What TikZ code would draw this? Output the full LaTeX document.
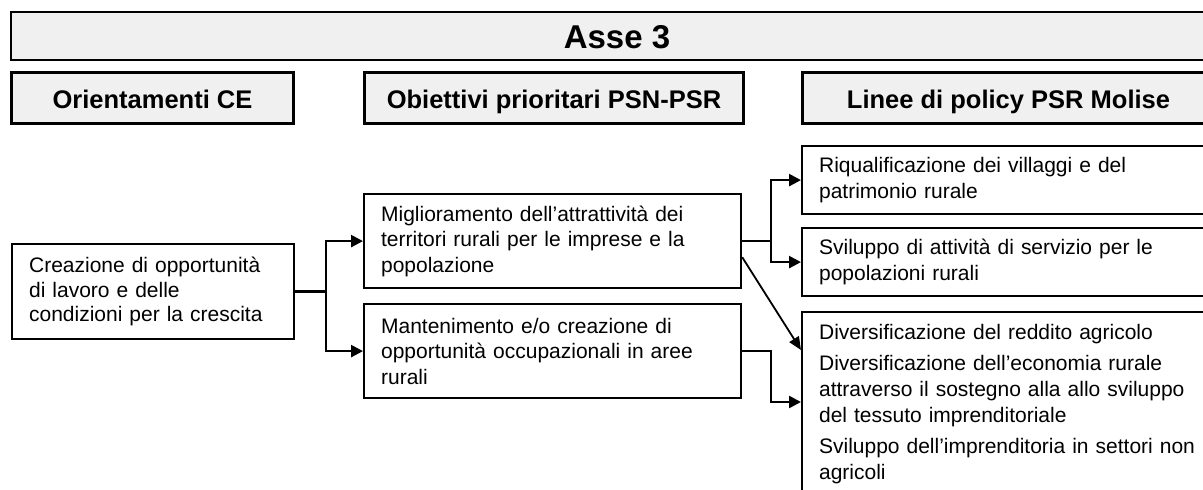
\documentclass[tikz,border=0pt]{standalone}
\usepackage{fontspec}
\setmainfont{Liberation Sans}
\usetikzlibrary{arrows.meta,calc}
\definecolor{hdrgray}{HTML}{F0F0F0}
\begin{document}
\begin{tikzpicture}[x=1pt,y=-1pt,
  titlebox/.style={draw=black, line width=2pt, fill=hdrgray,
    font=\bfseries\fontsize{33}{38}\selectfont, minimum height=48pt,
    text height=24pt, text depth=0pt,
    anchor=north west, inner sep=0pt},
  hdrbox/.style={draw=black, line width=3pt, fill=hdrgray,
    font=\bfseries\fontsize{25.5}{30}\selectfont, minimum height=51pt,
    text height=21pt, text depth=0pt,
    anchor=north west, inner sep=0pt},
  txtbox/.style={draw=black, line width=2.2pt, fill=white,
    font=\fontsize{21}{25.5}\selectfont, align=left,
    inner xsep=17pt, inner ysep=0pt, anchor=north west},
  conn/.style={line width=2.5pt, line join=miter,
    -{Triangle[length=12pt,width=12pt]}},
  diag/.style={line width=1.8pt, -{Triangle[length=13pt,width=11pt]}}
]
\useasboundingbox (0,0) rectangle (1203,490);
\clip (0,0) rectangle (1203,490);

\node[titlebox, minimum width=1212pt] (T) at (10,11) {Asse 3};
\node[hdrbox, minimum width=282pt] (H1) at (10,71) {Orientamenti CE};
\node[hdrbox, minimum width=379pt] (H2) at (363,71) {Obiettivi prioritari PSN-PSR};
\node[hdrbox, minimum width=412pt] (H3) at (801,71) {Linee di policy PSR Molise};

\node[txtbox, text width=248pt, minimum height=95pt, font=\fontsize{21}{24.5}\selectfont] (L) at (11,243)
  {Creazione di opportunità\\di lavoro e delle\\condizioni per la crescita};

\node[txtbox, text width=343pt, minimum height=94pt] (M1) at (363,193)
  {Miglioramento dell'attrattività dei\\territori rurali per le imprese e la\\popolazione};
\node[txtbox, text width=343pt, minimum height=94pt] (M2) at (363,303)
  {Mantenimento e/o creazione di\\opportunità occupazionali in aree\\rurali};

\node[txtbox, text width=380pt, minimum height=68pt] (R1) at (801,145)
  {Riqualificazione dei villaggi e del\\patrimonio rurale};
\node[txtbox, text width=380pt, minimum height=68pt] (R2) at (801,227)
  {Sviluppo di attività di servizio per le\\popolazioni rurali};
\node[txtbox, text width=380pt, inner ysep=12pt, font=\fontsize{21}{26}\selectfont] (R3) at (801,311)
  {Diversificazione del reddito agricolo\\[5pt]
   Diversificazione dell'economia rurale\\attraverso il sostegno alla allo sviluppo\\del tessuto imprenditoriale\\[5pt]
   Sviluppo dell'imprenditoria in settori non\\agricoli};

\coordinate (ja) at (326,0);
\coordinate (jb) at (771,0);
\coordinate (R3in) at ($(R3.north west)+(0,91)$);
\coordinate (R3dg) at ($(R3.north west)+(0,39)$);
\coordinate (M1dg) at ($(M1.south east)+(0,-32)$);

\draw[conn] (L.east) -| (ja |- M1.west) -- (M1.west);
\draw[conn] (L.east -| ja) |- (M2.west);
\draw[conn] (M1.east) -| (jb |- R1.west) -- (R1.west);
\draw[conn] (M1.east -| jb) |- (R2.west);
\draw[conn] (M2.east) -| (jb |- R3in) -- (R3in);
\draw[diag] (M1dg) -- (R3dg);
\end{tikzpicture}
\end{document}
